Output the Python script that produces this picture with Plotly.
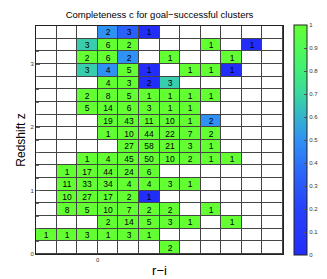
import numpy as np
import plotly.graph_objects as go

# bin centres
r_i_centers = [-0.5, -0.3, -0.1, 0.1, 0.3, 0.5, 0.7, 0.9, 1.1, 1.3, 1.5, 1.7]
z_centers_top_down = [3.5, 3.3, 3.1, 2.9, 2.7, 2.5, 2.3, 2.1, 1.9, 1.7,
                      1.5, 1.3, 1.1, 0.9, 0.7, 0.5, 0.3, 0.1]

N = None
# number of clusters per cell (top row first)
counts = [
    [N, N, N, 2, 3, 1, N, N, N, N, N, N],
    [N, N, 3, 6, 2, N, N, N, 1, N, 1, N],
    [N, N, 2, 6, 2, N, 1, N, N, 1, N, N],
    [N, N, 3, 4, 5, 1, N, 1, 1, 1, N, N],
    [N, N, N, 4, 3, 2, 3, N, N, N, N, N],
    [N, N, 2, 8, 5, 1, 1, 1, 1, N, N, N],
    [N, N, 5, 14, 6, 3, 1, 1, N, N, N, N],
    [N, N, N, 19, 43, 11, 10, 1, 2, N, N, N],
    [N, N, N, 1, 10, 44, 22, 7, 2, N, N, N],
    [N, N, N, N, 27, 58, 21, 3, 1, N, N, N],
    [N, N, 1, 4, 45, 50, 10, 2, 1, 1, N, N],
    [N, 1, 17, 44, 24, 6, N, N, N, N, N, N],
    [N, 11, 33, 34, 4, 4, 3, 1, N, N, N, N],
    [N, 10, 27, 17, 2, 1, N, N, N, N, N, N],
    [N, 8, 5, 10, 7, 2, 2, N, 1, N, N, N],
    [N, N, N, 2, 14, 5, 3, 1, N, 1, N, N],
    [1, 1, 3, 1, 3, 1, N, N, N, N, N, N],
    [N, N, N, N, N, N, 2, N, N, N, N, N],
]

# completeness per cell (top row first)
completeness = [
    [N, N, N, 0.5, 0.33, 0, N, N, N, N, N, N],
    [N, N, 0.67, 1, 1, N, N, N, 1, N, 0, N],
    [N, N, 1, 1, 0.5, N, 1, N, N, 1, N, N],
    [N, N, 0.67, 0.5, 1, 0, N, 1, 1, 0, N, N],
    [N, N, N, 1, 1, 0, 0.67, N, N, N, N, N],
    [N, N, 1, 1, 1, 1, 1, 1, 1, N, N, N],
    [N, N, 1, 1, 1, 1, 1, 1, N, N, N, N],
    [N, N, N, 1, 1, 1, 1, 1, 0.5, N, N, N],
    [N, N, N, 1, 1, 1, 1, 1, 1, N, N, N],
    [N, N, N, N, 1, 1, 1, 1, 1, N, N, N],
    [N, N, 1, 1, 1, 1, 1, 1, 1, 1, N, N],
    [N, 1, 1, 1, 1, 1, N, N, N, N, N, N],
    [N, 1, 1, 1, 1, 1, 1, 1, N, N, N, N],
    [N, 1, 1, 1, 1, 0, N, N, N, N, N, N],
    [N, 1, 1, 1, 1, 1, 1, N, 1, N, N, N],
    [N, N, N, 1, 1, 1, 1, 1, N, 1, N, N],
    [1, 1, 1, 1, 1, 1, N, N, N, N, N, N],
    [N, N, N, N, N, N, 1, N, N, N, N, N],
]

y_tick_vals = [0, 1, 2, 3]
x_tick_vals = [0]

FONT = "Liberation Sans, Arial, sans-serif"

zc = np.array([[np.nan if v is None else v for v in row] for row in completeness], dtype=float)
txt = [["" if v is None else str(v) for v in row] for row in counts]

colorscale = [
    [0.0, "rgb(35,45,250)"],
    [0.2, "rgb(38,65,250)"],
    [0.35, "rgb(42,100,250)"],
    [0.5, "rgb(48,145,245)"],
    [0.6, "rgb(52,180,205)"],
    [0.7, "rgb(58,215,160)"],
    [0.8, "rgb(65,238,120)"],
    [0.9, "rgb(80,250,85)"],
    [1.0, "rgb(100,255,50)"],
]

fig = go.Figure()

# white base cells (grid shows through gaps)
fig.add_trace(go.Heatmap(
    x=r_i_centers, y=z_centers_top_down,
    z=np.zeros_like(zc),
    colorscale=[[0, "white"], [1, "white"]],
    showscale=False, xgap=1, ygap=1, hoverinfo="skip",
))

fig.add_trace(go.Heatmap(
    x=r_i_centers, y=z_centers_top_down, z=zc,
    text=txt, texttemplate="%{text}",
    textfont=dict(family=FONT, size=8.5, color="black"),
    colorscale=colorscale, zmin=0, zmax=1,
    xgap=1, ygap=1,
    colorbar=dict(
        x=1.046, xanchor="left", xpad=0, y=0.5, yanchor="middle",
        len=1.01, lenmode="fraction", thickness=13, ypad=0,
        outlinecolor="#222", outlinewidth=1,
        tickvals=[0, 0.1, 0.2, 0.3, 0.4, 0.5, 0.6, 0.7, 0.8, 0.9, 1],
        ticktext=["0", "0.1", "0.2", "0.3", "0.4", "0.5", "0.6", "0.7", "0.8", "0.9", "1"],
        ticks="inside", ticklen=3, tickcolor="#555",
        tickfont=dict(family=FONT, size=6, color="#333"),
    ),
))

fig.update_layout(
    width=327, height=279,
    margin=dict(l=26, r=39, t=18, b=26),
    paper_bgcolor="white", plot_bgcolor="#444",
    font=dict(family=FONT, color="black"),
    title=dict(text="Completeness c for goal\u2212successful clusters",
               x=0.5, xref="paper", xanchor="center",
               y=1 - 7 / 279, yref="container", yanchor="middle",
               font=dict(family=FONT, size=9.5, color="black")),
    showlegend=False,
)
fig.update_xaxes(
    range=[-0.6, 1.8], tickvals=x_tick_vals, ticktext=["0"],
    ticks="", showgrid=False, zeroline=False,
    showline=True, mirror=True, linecolor="#222", linewidth=1,
    tickfont=dict(family=FONT, size=6, color="#333"),
    title=dict(text="r\u2212i", font=dict(family=FONT, size=13, color="black"), standoff=3),
)
fig.update_yaxes(
    range=[0, 3.6], tickvals=y_tick_vals,
    ticks="inside", ticklen=4, tickcolor="#666",
    minor=dict(dtick=0.2, tick0=0, ticks="inside", ticklen=3, tickcolor="#666"),
    showgrid=False, zeroline=False,
    showline=True, mirror=True, linecolor="#222", linewidth=1,
    tickfont=dict(family=FONT, size=6, color="#333"),
    title=dict(text="Redshift z", font=dict(family=FONT, size=12, color="black"), standoff=2),
)

fig.write_html("out.html")
